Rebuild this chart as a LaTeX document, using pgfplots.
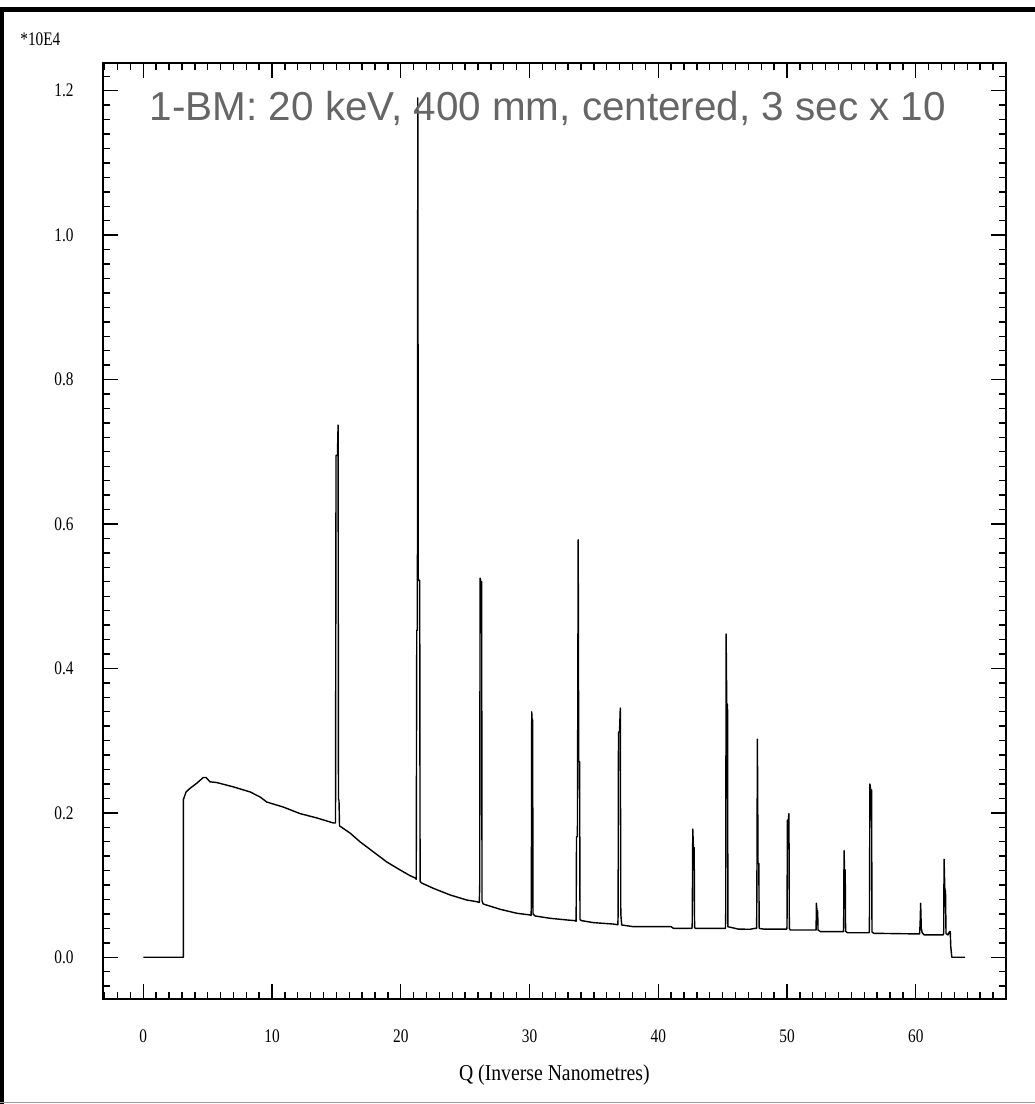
\documentclass[border=0pt]{standalone}
\usepackage{graphicx}
\usepackage{fontspec}
\setmainfont{Liberation Serif}
\newfontfamily\titlefont{Liberation Sans}
\usepackage{pgfplots}
\pgfplotsset{compat=1.18}
\definecolor{TitleGray}{HTML}{666666}
\definecolor{FrameGray}{HTML}{9A9A9A}
\newcommand{\tickfont}{\fontsize{10.9}{12}\selectfont}

\begin{document}
\begin{tikzpicture}
% page, 1 px = 0.02 cm
\path[use as bounding box,fill=white] (0cm,0cm) rectangle (20.7cm,-22.08cm);
\fill[black] (0cm,-0.14cm) rectangle (20.7cm,-0.24cm);
\fill[black] (0cm,-0.14cm) rectangle (0.08cm,-22.08cm);
\draw[FrameGray,line width=0.8pt] (0cm,-22.05cm) -- (20.7cm,-22.05cm);

\begin{axis}[
  at={(2.054cm,-19.986cm)},anchor=south west,
  scale only axis,width=18.066cm,height=18.732cm,
  xmin=-3.154,xmax=67.01,ymin=-0.0582,ymax=1.2388,
  axis line style={black,line width=1.1pt},
  tick align=inside,
  major tick length=0.3cm,minor tick length=0.15cm,
  every tick/.style={black,line width=0.8pt},
  xtick={0,10,...,60},
  minor xtick={-3,-2,...,67},
  ytick={0,0.2,0.4,0.6,0.8,1.0,1.2},
  minor ytick={-0.04,-0.02,...,1.23},
  /pgf/number format/assume math mode=true,
  xticklabel={\scalebox{0.8}[1]{\tickfont\pgfmathprintnumber{\tick}}},
  yticklabel={\scalebox{0.8}[1]{\tickfont\pgfmathprintnumber[fixed,zerofill,precision=1]{\tick}}},
  xticklabel style={anchor=center,inner sep=0pt,yshift=-0.748cm},
  yticklabel style={anchor=east,inner sep=0pt,xshift=-0.574cm},
  xlabel={\scalebox{0.87}[1]{\fontsize{12.9}{14}\selectfont Q (Inverse Nanometres)}},
  xlabel style={at={(axis description cs:0.5,0)},anchor=center,inner sep=0pt,yshift=-1.514cm},
]
\addplot[black,line width=0.8pt,line join=round] coordinates {
(0,0) (3.11,0) (3.11,0.218) (3.32,0.229) (3.63,0.234) (4.15,0.241) (4.66,0.249) (4.87,0.249)
(5.18,0.243) (5.70,0.242) (6.99,0.236) (8.29,0.229) (9.07,0.222) (9.59,0.215) (10.88,0.208)
(12.17,0.199) (13.47,0.193) (14.76,0.186)
(14.93,0.186) (14.97,0.695) (15.08,0.695) (15.13,0.737) (15.16,0.218) (15.20,0.218) (15.24,0.182)
(16.06,0.172) (16.83,0.160) (17.87,0.146) (18.91,0.132) (19.94,0.121) (20.72,0.113) (21.11,0.110)
(21.20,0.108) (21.24,0.453) (21.29,0.453) (21.32,1.19) (21.36,0.522) (21.47,0.522) (21.50,0.105) (21.60,0.103)
(22.53,0.0955) (23.83,0.0863) (25.12,0.0793) (25.90,0.077)
(26.10,0.076) (26.13,0.100) (26.16,0.525) (26.22,0.520) (26.28,0.520) (26.31,0.078) (26.40,0.0738)
(27.71,0.0665) (29.0,0.061) (30.04,0.0586)
(30.12,0.058) (30.14,0.070) (30.17,0.340) (30.20,0.329) (30.24,0.329) (30.27,0.060) (30.43,0.0572)
(31.6,0.054) (32.89,0.0517) (33.54,0.0507)
(33.62,0.050) (33.65,0.167) (33.72,0.167) (33.78,0.578) (33.82,0.271) (33.89,0.271) (33.92,0.052) (34.06,0.0507)
(34.96,0.048) (36.51,0.046)
(36.86,0.045) (36.88,0.0586) (36.91,0.312) (36.99,0.312) (37.05,0.345) (37.09,0.060) (37.16,0.0447)
(38.06,0.0424) (41.0,0.0424) (41.1,0.041) (41.2,0.040)
(42.62,0.040) (42.64,0.049) (42.68,0.1777) (42.73,0.152) (42.79,0.152) (42.82,0.041) (42.90,0.040)
(45.22,0.040) (45.24,0.063) (45.27,0.4477) (45.32,0.3507) (45.38,0.3507) (45.41,0.042) (45.50,0.042)
(46.22,0.039) (47.13,0.0388) (47.50,0.040)
(47.64,0.040) (47.66,0.0955) (47.70,0.302) (47.75,0.130) (47.81,0.130) (47.84,0.040)
(48.2,0.039) (49.98,0.039)
(50.00,0.042) (50.03,0.190) (50.10,0.190) (50.15,0.199) (50.18,0.040) (50.25,0.0378)
(52.26,0.0378) (52.28,0.0748) (52.33,0.0645) (52.38,0.0645) (52.41,0.0378) (52.60,0.0355)
(54.38,0.0355) (54.40,0.0447) (54.43,0.1476) (54.47,0.121) (54.52,0.121) (54.55,0.036) (54.70,0.034)
(56.38,0.034) (56.40,0.040) (56.44,0.240) (56.50,0.2317) (56.57,0.2317) (56.60,0.035) (56.75,0.0332)
(60.30,0.0323) (60.34,0.047) (60.38,0.0748) (60.43,0.040) (60.50,0.034) (60.65,0.031)
(62.14,0.031) (62.17,0.034) (62.20,0.1357) (62.26,0.0932) (62.31,0.0932) (62.35,0.033) (62.50,0.031)
(62.62,0.0355) (62.68,0.0355) (62.72,0.0147) (62.80,0) (63.83,0)
};
\end{axis}

\node[anchor=west,inner sep=0pt] at (0.4cm,-0.78cm) {\scalebox{0.8}[1]{\tickfont *10E4}};
\node[anchor=base,inner sep=0pt,text=TitleGray] at (10.96cm,-2.40cm)
  {\titlefont\fontsize{23}{26}\selectfont 1-BM: 20 keV, 400 mm, centered, 3 sec x 10};
\end{tikzpicture}
\end{document}
